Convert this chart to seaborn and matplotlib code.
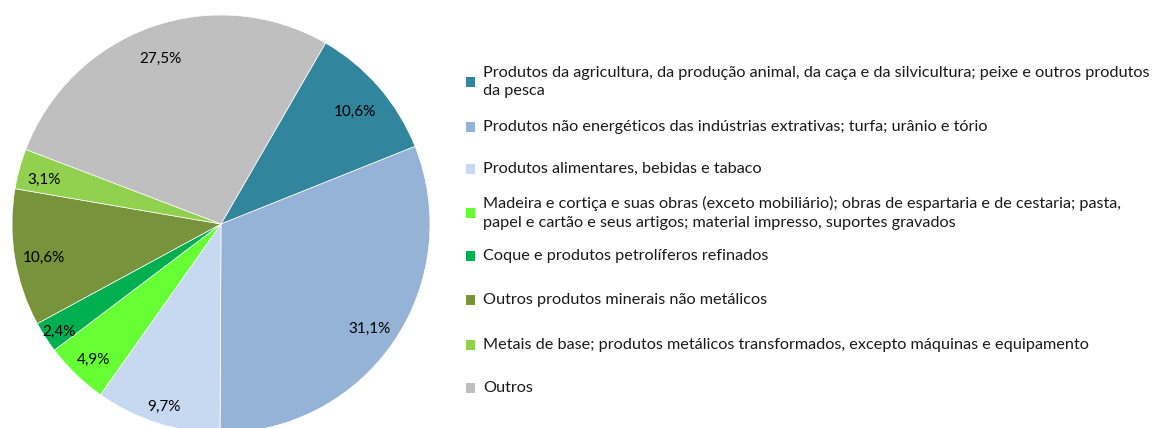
import matplotlib
matplotlib.use("Agg")
import numpy as np
import matplotlib.pyplot as plt
from matplotlib.patches import Rectangle
import seaborn as sns

# Dados
categorias = [
    "Produtos da agricultura, da produção animal, da caça e da silvicultura; peixe e outros produtos\nda pesca",
    "Produtos não energéticos das indústrias extrativas; turfa; urânio e tório",
    "Produtos alimentares, bebidas e tabaco",
    "Madeira e cortiça e suas obras (exceto mobiliário); obras de espartaria e de cestaria; pasta,\npapel e cartão e seus artigos; material impresso, suportes gravados",
    "Coque e produtos petrolíferos refinados",
    "Outros produtos minerais não metálicos",
    "Metais de base; produtos metálicos transformados, excepto máquinas e equipamento",
    "Outros",
]
percentagens = [10.6, 31.1, 9.7, 4.9, 2.4, 10.6, 3.1, 27.5]
cores = ["#31859C", "#95B3D7", "#C6D9F1", "#66FF33", "#00B050", "#77933C", "#92D050", "#BFBFBF"]

# distância (fração do raio) de cada rótulo ao centro, como no Excel
distancia_rotulos = [0.85, 0.86, 0.90, 0.88, 0.92, 0.86, 0.88, 0.86]
# posição vertical (px) da primeira linha de cada entrada da legenda
legenda_y = [82, 127, 169, 213, 256, 300, 345, 388]

sns.set_theme(style="white")
plt.rcParams["font.family"] = ["Lato", "DejaVu Sans"]

W, H = 1154, 428
fig = plt.figure(figsize=(W / 100, H / 100), dpi=100)

# Gráfico circular
cx, cy, r = 221, 224, 209
ax = fig.add_axes([(cx - r) / W, (H - cy - r) / H, 2 * r / W, 2 * r / H])
paleta = sns.color_palette(cores)
fatias, _, rotulos = ax.pie(percentagens, colors=paleta, startangle=60, counterclock=False,
                            autopct=lambda p: f"{p:.1f}%".replace(".", ","), pctdistance=0.86,
                            wedgeprops=dict(linewidth=0.5, edgecolor="white"),
                            textprops=dict(fontsize=11, color="black"))
for fatia, rotulo, d in zip(fatias, rotulos, distancia_rotulos):
    ang = np.deg2rad((fatia.theta1 + fatia.theta2) / 2)
    rotulo.set_position((d * np.cos(ang), d * np.sin(ang) - 0.02))
ax.set_xlim(-1, 1)
ax.set_ylim(-1, 1)
ax.set_aspect("equal")
ax.axis("off")

# Legenda manual; tamanho da letra ajustado para caber a linha mais longa
renderer = fig.canvas.get_renderer()
teste = fig.text(0, 0, categorias[0].split("\n")[0], fontsize=11)
largura = teste.get_window_extent(renderer).width
teste.remove()
tamanho = 11 * 668 / largura

for cor, texto, y in zip(paleta, categorias, legenda_y):
    fig.patches.append(Rectangle((466 / W, 1 - (y + 5) / H), 9 / W, 10 / H,
                                 transform=fig.transFigure, facecolor=cor, edgecolor="none"))
    fig.text(483 / W, 1 - y / H, texto, fontsize=tamanho, va="center", ha="left",
             color="#1a1a1a", linespacing=1.45)

fig.savefig("out.png", dpi=100)
